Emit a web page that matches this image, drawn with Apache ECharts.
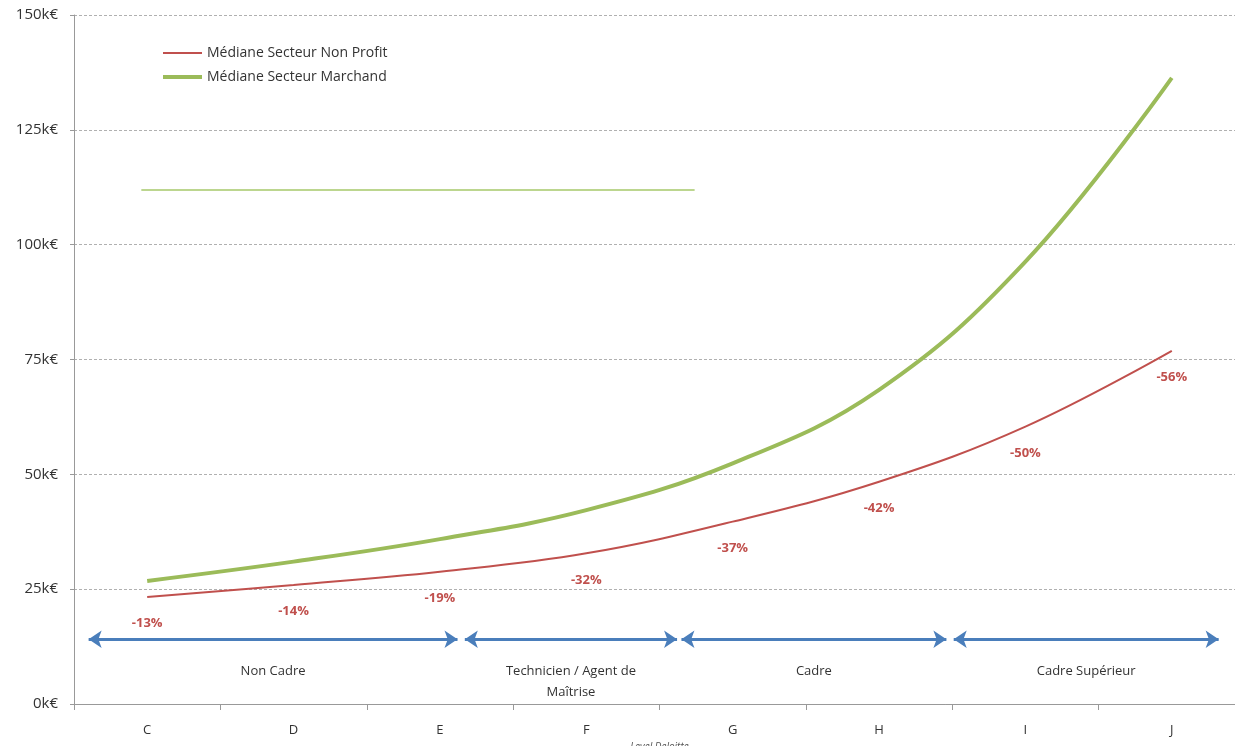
<!DOCTYPE html>
<html>
<head>
<meta charset="utf-8">
<script src="https://cdn.jsdelivr.net/npm/echarts@6/dist/echarts.min.js"></script>
<style>
  html, body { margin: 0; padding: 0; background: #fff; overflow: hidden; }
  #chart { width: 1235px; height: 746px; }
</style>
</head>
<body>
<div id="chart"></div>
<script>
// Deloitte levels on the x axis
const levels = ['C', 'D', 'E', 'F', 'G', 'H', 'I', 'J'];
// Median salaries, in k€
const nonProfit = [23.3, 25.9, 28.8, 32.8, 39.7, 48.4, 60.4, 76.9];
const marchand  = [26.8, 31.0, 35.9, 42.2, 52.4, 68.4, 96.3, 136.3];
// Gap between the two sectors, shown under the non-profit curve
const gapLabels = ['-13%', '-14%', '-19%', '-32%', '-37%', '-42%', '-50%', '-56%'];
// Y axis ticks, in k€
const yTicks = [0, 25, 50, 75, 100, 125, 150];
// Job families spanning the levels (arrow ends in level units, C = 0)
const familyNames = ['Non Cadre', 'Technicien / Agent de\nMaîtrise', 'Cadre', 'Cadre Supérieur'];
const familyFrom  = [-0.40, 2.17, 3.65, 5.51];
const familyTo    = [2.12, 3.62, 5.46, 7.32];
const familyLevel = 14.1;
// Stray reference line (k€) and its extent in level units
const refLineValue = 111.9;
const refLineFrom = -0.04;
const refLineTo = 3.74;

const RED = '#c0504d';
const GREEN = '#9bbb59';
const BLUE = '#4a7ebb';
const FONT = '"Open Sans", Lato, sans-serif';

const chart = echarts.init(document.getElementById('chart'));

const arrowLines = familyNames.map((name, i) => [
  { coord: [familyFrom[i], familyLevel], name: name },
  { coord: [familyTo[i], familyLevel] }
]);

chart.setOption({
  animation: false,
  textStyle: { fontFamily: FONT },
  grid: { left: 74, right: -10, top: 15, bottom: 42, outerBoundsMode: 'none', containLabel: false },
  legend: {
    left: 158, top: 41, orient: 'vertical', itemGap: 10,
    itemWidth: 39, itemHeight: 16,
    textStyle: { fontSize: 14, color: '#333', fontFamily: FONT },
    data: [
      { name: 'Médiane Secteur Non Profit', icon: 'path://M0,7 L39,7 L39,9 L0,9 Z' },
      { name: 'Médiane Secteur Marchand', icon: 'path://M0,6 L39,6 L39,10 L0,10 Z' }
    ]
  },
  xAxis: [
    {
      type: 'category', data: levels, boundaryGap: true,
      name: 'Level Deloitte', nameLocation: 'middle', nameGap: 36,
      nameTextStyle: { fontStyle: 'italic', fontSize: 10, color: '#555' },
      axisLine: { onZero: false, lineStyle: { color: '#999' } },
      axisTick: { show: true, length: 6, lineStyle: { color: '#999' } },
      axisLabel: { fontSize: 13, color: '#333', margin: 20 },
      splitLine: { show: false }
    },
    {
      type: 'value', min: -0.5, max: 7.5, show: false
    }
  ],
  yAxis: {
    type: 'value', min: 0, max: 150, interval: 25,
    axisLine: { show: true, onZero: false, lineStyle: { color: '#999' } },
    axisTick: { show: true, length: 4, lineStyle: { color: '#999' } },
    axisLabel: {
      fontSize: 15, color: '#333', margin: 16,
      formatter: v => yTicks.includes(v) ? v + 'k€' : ''
    },
    splitLine: { lineStyle: { type: [3, 2], color: '#b0b0b0', width: 1 } }
  },
  series: [
    {
      name: 'Médiane Secteur Non Profit', type: 'line', smooth: 0.4,
      data: nonProfit,
      showSymbol: true, symbol: 'circle', symbolSize: 0,
      lineStyle: { color: RED, width: 2 }, itemStyle: { color: RED },
      label: {
        show: true, position: 'bottom', distance: 20, color: RED, fontSize: 13, fontWeight: 'bold',
        formatter: p => gapLabels[p.dataIndex]
      },
      z: 3
    },
    {
      name: 'Médiane Secteur Marchand', type: 'line', smooth: 0.4,
      data: marchand, showSymbol: false, symbol: 'none',
      lineStyle: { color: GREEN, width: 4 }, itemStyle: { color: GREEN },
      z: 3
    },
    {
      // job family arrows and their captions
      type: 'line', xAxisIndex: 1, data: [], silent: true,
      markLine: {
        silent: true, animation: false,
        symbol: ['arrow', 'arrow'], symbolSize: [13, 13],
        lineStyle: { color: BLUE, width: 3, type: 'solid' },
        label: {
          show: true, position: 'insideMiddleBottom', distance: 22,
          formatter: p => p.name, color: '#333', fontSize: 13, lineHeight: 21
        },
        emphasis: { disabled: true },
        data: arrowLines
      }
    },
    {
      type: 'line', xAxisIndex: 1, data: [], silent: true,
      markLine: {
        silent: true, animation: false, symbol: ['none', 'none'],
        lineStyle: { color: '#a6c86a', width: 1.5, type: 'solid' },
        label: { show: false },
        emphasis: { disabled: true },
        data: [[{ coord: [refLineFrom, refLineValue] }, { coord: [refLineTo, refLineValue] }]]
      }
    }
  ]
});
</script>
</body>
</html>
